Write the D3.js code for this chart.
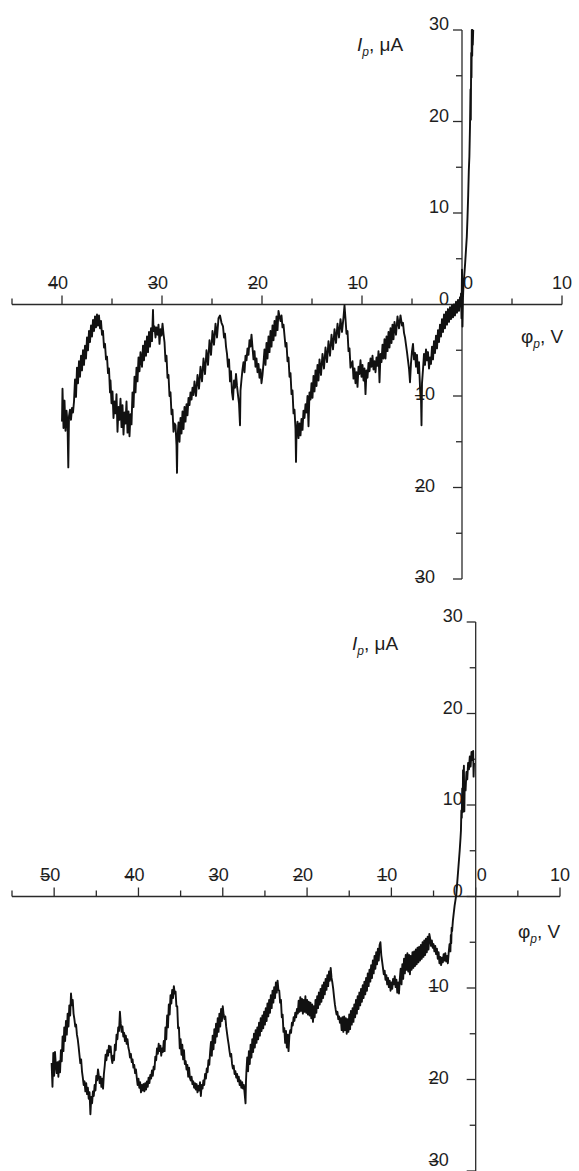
<!DOCTYPE html>
<html><head><meta charset="utf-8">
<script src="https://cdn.jsdelivr.net/npm/d3@7"></script>
<style>
body{margin:0;background:#fff}
svg{display:block}
text{font-family:"Liberation Sans",Arial,Helvetica,sans-serif;fill:#1e1e1e;font-size:18px}
</style>
</head><body>
<svg id="c" width="579" height="1171"></svg>
<script>
// ---------- data ----------
const xTickLabelsTop = [-40,-30,-20,-10,0,10];
const xTickLabelsBottom = [-50,-40,-30,-20,-10,0,10];
const yTickLabels = [-30,-20,-10,0,10,20,30];
const xDomainTop = [-45,10];
const xDomainBottom = [-55,10];
const yDomain = [-30,30];

// top panel curve: [phi_p (V), I_p (uA)]
const topCurve = [[-40.0,-12.8],[-39.95,-9.2],[-39.85,-13.5],[-39.75,-10.5],[-39.65,-13.8],[-39.55,-11.6],[-39.45,-12.9],[-39.37,-17.8],[-39.3,-12.2],[-39.2,-11.5],[-39.1,-12.6],[-39.0,-11.3],[-38.9,-11.8],[-38.8,-10.6],[-38.7,-8.2],[-38.6,-10.1],[-38.5,-6.9],[-38.4,-8.6],[-38.3,-6.2],[-38.2,-7.9],[-38.1,-5.6],[-38.0,-7.2],[-37.9,-5.0],[-37.8,-6.6],[-37.7,-4.5],[-37.6,-5.9],[-37.5,-3.6],[-37.4,-5.0],[-37.3,-2.9],[-37.2,-4.1],[-37.1,-2.3],[-37.0,-3.5],[-36.9,-1.7],[-36.8,-2.9],[-36.7,-1.3],[-36.6,-2.5],[-36.5,-1.1],[-36.4,-2.3],[-36.3,-1.2],[-36.2,-2.6],[-36.1,-1.8],[-36.0,-3.3],[-35.9,-2.9],[-35.8,-4.7],[-35.7,-4.3],[-35.6,-6.0],[-35.5,-5.7],[-35.4,-7.5],[-35.3,-7.0],[-35.2,-9.6],[-35.15,-8.3],[-35.05,-10.8],[-34.95,-9.5],[-34.85,-12.4],[-34.75,-10.6],[-34.65,-11.9],[-34.55,-9.8],[-34.45,-13.9],[-34.35,-11.2],[-34.25,-12.6],[-34.15,-10.3],[-34.05,-13.4],[-33.95,-11.0],[-33.85,-14.2],[-33.75,-11.8],[-33.65,-13.0],[-33.55,-10.6],[-33.45,-14.0],[-33.35,-11.7],[-33.25,-14.4],[-33.15,-12.0],[-33.05,-13.1],[-32.95,-9.6],[-32.85,-11.2],[-32.75,-7.9],[-32.65,-9.6],[-32.55,-6.9],[-32.45,-8.4],[-32.35,-5.8],[-32.25,-7.3],[-32.15,-5.2],[-32.0,-6.8],[-31.9,-4.5],[-31.8,-6.1],[-31.7,-4.0],[-31.6,-5.6],[-31.5,-3.5],[-31.4,-5.2],[-31.3,-3.0],[-31.2,-4.6],[-31.1,-2.6],[-31.0,-4.0],[-30.9,-0.6],[-30.85,-2.9],[-30.75,-2.4],[-30.65,-3.6],[-30.55,-2.5],[-30.45,-3.3],[-30.35,-2.2],[-30.25,-4.3],[-30.15,-2.7],[-30.05,-3.4],[-29.95,-2.1],[-29.85,-3.2],[-29.75,-4.1],[-29.65,-6.2],[-29.55,-5.6],[-29.45,-8.0],[-29.35,-7.7],[-29.25,-10.0],[-29.15,-9.6],[-29.05,-12.0],[-28.95,-11.5],[-28.85,-13.9],[-28.75,-13.0],[-28.65,-13.2],[-28.55,-15.4],[-28.5,-18.4],[-28.45,-14.6],[-28.35,-12.9],[-28.25,-15.0],[-28.15,-12.4],[-28.05,-14.1],[-27.95,-11.7],[-27.85,-13.6],[-27.75,-11.2],[-27.65,-12.8],[-27.55,-10.9],[-27.45,-12.1],[-27.35,-10.2],[-27.25,-11.0],[-27.15,-9.6],[-27.05,-10.4],[-26.95,-9.1],[-26.85,-9.9],[-26.75,-8.4],[-26.6,-10.0],[-26.45,-7.7],[-26.3,-9.2],[-26.15,-6.8],[-26.0,-8.4],[-25.85,-5.9],[-25.7,-7.6],[-25.55,-5.0],[-25.4,-6.6],[-25.25,-3.9],[-25.1,-5.5],[-24.95,-2.9],[-24.8,-4.4],[-24.65,-2.1],[-24.5,-3.6],[-24.35,-1.5],[-24.2,-1.2],[-24.05,-2.0],[-23.9,-2.4],[-23.8,-3.6],[-23.7,-3.2],[-23.6,-4.6],[-23.5,-5.4],[-23.4,-6.8],[-23.3,-6.0],[-23.2,-8.4],[-23.1,-7.3],[-23.0,-9.6],[-22.9,-10.4],[-22.8,-8.3],[-22.7,-9.1],[-22.6,-7.6],[-22.5,-8.9],[-22.4,-9.9],[-22.3,-10.8],[-22.2,-13.2],[-22.15,-9.4],[-22.05,-8.2],[-21.95,-7.1],[-21.85,-6.3],[-21.75,-7.4],[-21.65,-5.6],[-21.55,-6.1],[-21.45,-4.8],[-21.35,-5.5],[-21.25,-3.9],[-21.15,-4.6],[-21.05,-3.3],[-20.95,-4.7],[-20.85,-6.0],[-20.75,-5.1],[-20.65,-6.8],[-20.55,-5.9],[-20.45,-7.4],[-20.35,-6.5],[-20.25,-8.0],[-20.15,-7.1],[-20.05,-8.6],[-19.95,-7.7],[-19.85,-6.4],[-19.75,-4.9],[-19.65,-6.6],[-19.55,-4.2],[-19.45,-5.9],[-19.35,-3.5],[-19.25,-5.2],[-19.15,-2.9],[-19.05,-4.6],[-18.95,-2.3],[-18.85,-3.9],[-18.75,-1.8],[-18.65,-3.4],[-18.55,-1.3],[-18.45,-2.8],[-18.35,-0.7],[-18.25,-1.3],[-18.15,-1.8],[-18.05,-1.2],[-17.95,-2.5],[-17.85,-2.2],[-17.75,-3.4],[-17.65,-4.6],[-17.55,-4.2],[-17.45,-6.2],[-17.35,-5.8],[-17.25,-7.9],[-17.15,-7.5],[-17.05,-9.8],[-16.95,-9.4],[-16.85,-11.9],[-16.75,-11.5],[-16.65,-13.6],[-16.6,-17.2],[-16.55,-14.1],[-16.45,-12.8],[-16.35,-14.6],[-16.25,-13.0],[-16.15,-14.3],[-16.05,-12.5],[-15.95,-13.7],[-15.85,-11.6],[-15.75,-12.4],[-15.65,-10.9],[-15.55,-11.8],[-15.45,-10.0],[-15.35,-13.3],[-15.25,-9.6],[-15.15,-10.4],[-15.05,-8.6],[-14.95,-10.2],[-14.85,-7.8],[-14.75,-9.5],[-14.65,-7.2],[-14.55,-8.9],[-14.45,-6.6],[-14.35,-8.3],[-14.25,-6.0],[-14.1,-7.7],[-13.95,-5.4],[-13.8,-7.0],[-13.65,-4.7],[-13.5,-6.3],[-13.35,-4.0],[-13.2,-5.6],[-13.05,-3.3],[-12.9,-4.9],[-12.75,-2.7],[-12.6,-4.2],[-12.45,-2.1],[-12.3,-3.6],[-12.15,-1.6],[-12.0,-3.0],[-11.85,-1.4],[-11.75,-0.1],[-11.65,-1.6],[-11.55,-3.2],[-11.45,-2.9],[-11.35,-5.1],[-11.25,-4.8],[-11.15,-6.9],[-11.05,-6.5],[-10.95,-6.2],[-10.85,-8.1],[-10.75,-7.0],[-10.65,-8.6],[-10.55,-7.4],[-10.45,-9.0],[-10.35,-6.8],[-10.25,-7.6],[-10.15,-6.1],[-10.05,-7.9],[-9.95,-6.6],[-9.85,-8.3],[-9.75,-7.0],[-9.65,-9.8],[-9.55,-7.2],[-9.45,-8.0],[-9.35,-6.4],[-9.25,-7.3],[-9.15,-5.9],[-9.05,-6.8],[-8.95,-5.6],[-8.85,-7.1],[-8.75,-6.2],[-8.65,-7.4],[-8.55,-5.8],[-8.45,-6.7],[-8.35,-5.1],[-8.25,-8.5],[-8.15,-5.4],[-8.05,-6.3],[-7.95,-4.4],[-7.85,-5.9],[-7.75,-3.8],[-7.65,-5.9],[-7.55,-3.5],[-7.45,-5.1],[-7.35,-3.0],[-7.25,-4.7],[-7.15,-2.6],[-7.05,-4.2],[-6.95,-2.2],[-6.85,-3.8],[-6.75,-1.9],[-6.6,-3.3],[-6.45,-1.3],[-6.3,-2.6],[-6.15,-1.2],[-6.0,-2.3],[-5.9,-2.0],[-5.8,-3.1],[-5.7,-3.6],[-5.6,-4.4],[-5.5,-5.2],[-5.4,-6.1],[-5.3,-7.0],[-5.2,-8.5],[-5.1,-6.4],[-5.0,-5.1],[-4.9,-4.3],[-4.8,-6.0],[-4.7,-5.3],[-4.6,-6.8],[-4.5,-5.5],[-4.4,-7.5],[-4.3,-6.3],[-4.2,-9.0],[-4.1,-10.2],[-4.05,-13.2],[-4.0,-8.6],[-3.9,-7.1],[-3.8,-5.4],[-3.7,-6.6],[-3.6,-4.9],[-3.5,-6.1],[-3.4,-5.2],[-3.3,-7.0],[-3.2,-5.8],[-3.1,-6.5],[-3.0,-4.6],[-2.9,-6.0],[-2.8,-4.0],[-2.7,-5.3],[-2.6,-3.4],[-2.5,-4.8],[-2.4,-2.8],[-2.3,-4.1],[-2.2,-2.2],[-2.1,-3.5],[-2.0,-1.6],[-1.9,-3.0],[-1.8,-1.1],[-1.7,-2.6],[-1.6,-0.8],[-1.5,-2.2],[-1.4,-0.5],[-1.3,-1.9],[-1.2,-0.3],[-1.1,-1.6],[-1.0,-0.1],[-0.9,-1.4],[-0.8,0.0],[-0.7,-1.2],[-0.6,0.3],[-0.5,-0.9],[-0.4,0.5],[-0.3,-0.7],[-0.2,0.8],[-0.15,-0.2],[-0.1,1.2],[-0.05,-1.5],[0.0,3.8],[0.05,-2.4],[0.1,0.8],[0.15,2.2],[0.25,3.5],[0.32,4.6],[0.4,6.0],[0.48,7.4],[0.55,9.5],[0.62,12.0],[0.68,14.6],[0.74,16.2],[0.8,19.5],[0.85,23.5],[0.88,20.2],[0.92,27.5],[0.95,24.8],[0.98,30],[1.02,27.2],[1.05,30],[1.08,28.4],[1.12,30]];

// bottom panel curve: [phi_p (V), I_p (uA)]
const bottomCurve = [[-50.3,-18.2],[-50.2,-20.8],[-50.1,-17.1],[-50.0,-19.6],[-49.9,-17.0],[-49.8,-18.4],[-49.7,-19.3],[-49.6,-18.1],[-49.5,-19.7],[-49.4,-18.0],[-49.3,-19.2],[-49.2,-16.8],[-49.1,-18.0],[-49.0,-15.3],[-48.9,-16.9],[-48.8,-14.3],[-48.7,-15.8],[-48.6,-13.6],[-48.5,-15.1],[-48.4,-12.8],[-48.3,-14.2],[-48.2,-11.9],[-48.1,-13.0],[-48.0,-10.6],[-47.9,-11.9],[-47.8,-11.3],[-47.7,-12.8],[-47.6,-13.4],[-47.5,-14.2],[-47.4,-14.0],[-47.3,-15.1],[-47.2,-15.6],[-47.1,-16.4],[-47.0,-17.3],[-46.9,-18.2],[-46.8,-17.8],[-46.7,-19.1],[-46.6,-19.8],[-46.5,-20.6],[-46.4,-20.2],[-46.3,-21.3],[-46.2,-20.4],[-46.1,-21.6],[-46.0,-20.9],[-45.9,-22.1],[-45.8,-21.4],[-45.7,-23.8],[-45.6,-21.9],[-45.5,-22.6],[-45.4,-21.3],[-45.3,-21.8],[-45.2,-20.6],[-45.1,-21.2],[-45.0,-19.6],[-44.9,-20.1],[-44.8,-18.9],[-44.7,-19.6],[-44.6,-20.4],[-44.5,-19.7],[-44.4,-20.8],[-44.3,-19.9],[-44.2,-21.0],[-44.1,-19.4],[-44.0,-18.5],[-43.9,-17.3],[-43.8,-17.9],[-43.7,-16.8],[-43.6,-17.4],[-43.5,-16.3],[-43.4,-17.0],[-43.3,-16.4],[-43.2,-17.6],[-43.1,-18.2],[-43.0,-17.4],[-42.9,-17.9],[-42.8,-16.2],[-42.7,-16.8],[-42.6,-15.1],[-42.5,-15.6],[-42.4,-14.3],[-42.3,-14.7],[-42.2,-12.6],[-42.1,-13.9],[-42.0,-14.8],[-41.9,-14.2],[-41.8,-15.3],[-41.7,-14.9],[-41.6,-15.8],[-41.5,-15.2],[-41.4,-16.1],[-41.3,-15.6],[-41.2,-16.5],[-41.1,-16.9],[-41.0,-17.6],[-40.9,-17.2],[-40.8,-18.1],[-40.7,-17.8],[-40.6,-18.7],[-40.5,-18.4],[-40.4,-19.3],[-40.3,-18.9],[-40.2,-19.8],[-40.1,-20.6],[-40.0,-19.9],[-39.9,-20.9],[-39.8,-20.3],[-39.7,-21.4],[-39.6,-20.6],[-39.5,-21.2],[-39.4,-20.5],[-39.3,-21.3],[-39.2,-20.4],[-39.1,-21.1],[-39.0,-20.2],[-38.9,-20.8],[-38.8,-19.8],[-38.7,-20.4],[-38.6,-19.5],[-38.5,-19.9],[-38.4,-19.0],[-38.3,-19.6],[-38.2,-18.6],[-38.1,-18.9],[-38.0,-17.5],[-37.9,-17.9],[-37.8,-16.6],[-37.7,-17.2],[-37.6,-16.1],[-37.5,-16.9],[-37.4,-16.3],[-37.3,-17.4],[-37.2,-16.6],[-37.1,-17.0],[-37.0,-15.8],[-36.9,-16.9],[-36.8,-14.3],[-36.7,-15.6],[-36.6,-13.0],[-36.5,-14.3],[-36.4,-11.8],[-36.3,-12.9],[-36.2,-10.8],[-36.1,-11.7],[-36.0,-10.2],[-35.9,-11.1],[-35.8,-9.8],[-35.7,-10.6],[-35.6,-10.4],[-35.5,-12.0],[-35.4,-12.0],[-35.3,-14.4],[-35.2,-14.3],[-35.1,-16.6],[-35.0,-15.6],[-34.9,-17.3],[-34.8,-16.2],[-34.7,-17.8],[-34.6,-16.8],[-34.5,-18.3],[-34.4,-18.0],[-34.3,-18.9],[-34.2,-18.4],[-34.1,-19.7],[-34.0,-18.7],[-33.9,-19.8],[-33.8,-20.1],[-33.7,-19.7],[-33.6,-20.5],[-33.5,-20.2],[-33.4,-20.9],[-33.3,-20.4],[-33.2,-21.1],[-33.1,-20.5],[-33.0,-21.4],[-32.9,-20.7],[-32.8,-21.2],[-32.7,-20.3],[-32.6,-21.8],[-32.5,-20.6],[-32.4,-21.0],[-32.3,-20.1],[-32.2,-20.6],[-32.1,-19.4],[-32.0,-19.9],[-31.9,-18.8],[-31.8,-19.2],[-31.7,-17.9],[-31.6,-18.4],[-31.5,-17.0],[-31.4,-15.9],[-31.3,-17.4],[-31.2,-15.2],[-31.1,-16.7],[-31.0,-14.5],[-30.9,-16.0],[-30.8,-13.9],[-30.7,-15.3],[-30.6,-13.3],[-30.5,-14.8],[-30.4,-12.8],[-30.3,-14.2],[-30.2,-12.3],[-30.1,-13.6],[-30.0,-12.0],[-29.9,-12.9],[-29.8,-13.4],[-29.7,-13.1],[-29.6,-14.2],[-29.5,-14.9],[-29.4,-15.6],[-29.3,-16.2],[-29.2,-16.9],[-29.1,-17.5],[-29.0,-17.2],[-28.9,-18.3],[-28.8,-18.8],[-28.7,-18.5],[-28.6,-19.4],[-28.5,-19.1],[-28.4,-19.8],[-28.3,-19.4],[-28.2,-20.2],[-28.1,-19.7],[-28.0,-20.6],[-27.9,-20.1],[-27.8,-20.9],[-27.7,-20.3],[-27.6,-21.0],[-27.5,-20.6],[-27.4,-21.6],[-27.3,-22.6],[-27.25,-20.3],[-27.2,-19.2],[-27.1,-17.6],[-27.0,-19.1],[-26.9,-16.9],[-26.8,-18.3],[-26.7,-16.2],[-26.6,-17.6],[-26.5,-15.6],[-26.4,-17.0],[-26.3,-15.0],[-26.2,-16.5],[-26.1,-14.6],[-26.0,-16.0],[-25.9,-14.3],[-25.8,-15.6],[-25.7,-13.8],[-25.6,-15.2],[-25.5,-13.3],[-25.4,-14.7],[-25.3,-13.0],[-25.2,-14.4],[-25.1,-12.6],[-25.0,-14.0],[-24.9,-12.2],[-24.8,-13.6],[-24.7,-11.7],[-24.6,-13.1],[-24.5,-11.3],[-24.4,-12.7],[-24.3,-10.8],[-24.2,-12.2],[-24.1,-10.3],[-24.0,-11.6],[-23.9,-9.9],[-23.8,-11.1],[-23.7,-9.4],[-23.6,-10.5],[-23.5,-9.2],[-23.4,-10.2],[-23.3,-10.3],[-23.2,-11.6],[-23.1,-11.3],[-23.0,-13.2],[-22.9,-12.9],[-22.8,-14.8],[-22.7,-14.4],[-22.6,-16.0],[-22.5,-14.7],[-22.4,-16.5],[-22.3,-15.1],[-22.2,-16.9],[-22.1,-15.2],[-22.0,-14.6],[-21.9,-14.9],[-21.8,-13.8],[-21.7,-14.1],[-21.6,-13.2],[-21.5,-13.6],[-21.4,-12.7],[-21.3,-13.2],[-21.2,-12.3],[-21.1,-12.8],[-21.0,-11.4],[-20.9,-12.6],[-20.8,-11.0],[-20.7,-12.5],[-20.6,-11.2],[-20.5,-12.8],[-20.4,-11.3],[-20.3,-12.6],[-20.2,-10.9],[-20.1,-12.7],[-20.0,-11.3],[-19.9,-12.9],[-19.8,-11.5],[-19.7,-13.0],[-19.6,-11.6],[-19.5,-13.3],[-19.4,-11.8],[-19.3,-13.7],[-19.2,-12.0],[-19.1,-13.2],[-19.0,-11.3],[-18.9,-12.7],[-18.8,-10.9],[-18.7,-12.2],[-18.6,-10.5],[-18.5,-11.8],[-18.4,-10.1],[-18.3,-11.5],[-18.2,-9.7],[-18.1,-11.1],[-18.0,-9.4],[-17.9,-10.7],[-17.8,-9.0],[-17.7,-10.2],[-17.6,-8.6],[-17.5,-9.8],[-17.4,-8.2],[-17.3,-9.2],[-17.2,-7.8],[-17.1,-8.9],[-17.0,-9.4],[-16.9,-10.1],[-16.8,-11.0],[-16.7,-11.8],[-16.6,-12.4],[-16.5,-12.9],[-16.4,-12.6],[-16.3,-13.4],[-16.2,-13.1],[-16.1,-13.8],[-16.0,-13.3],[-15.9,-14.6],[-15.8,-13.2],[-15.7,-14.8],[-15.6,-13.1],[-15.5,-14.6],[-15.4,-13.3],[-15.3,-15.0],[-15.2,-13.4],[-15.1,-14.8],[-15.0,-12.9],[-14.9,-14.5],[-14.8,-12.5],[-14.7,-14.0],[-14.6,-12.2],[-14.5,-13.7],[-14.4,-11.8],[-14.3,-13.2],[-14.2,-11.3],[-14.1,-12.8],[-14.0,-10.9],[-13.9,-12.3],[-13.8,-10.5],[-13.7,-11.9],[-13.6,-10.1],[-13.5,-11.5],[-13.4,-9.7],[-13.3,-11.1],[-13.2,-9.3],[-13.1,-10.7],[-13.0,-8.9],[-12.9,-10.3],[-12.8,-8.4],[-12.7,-9.8],[-12.6,-8.0],[-12.5,-9.3],[-12.4,-7.5],[-12.3,-8.9],[-12.2,-7.0],[-12.1,-8.4],[-12.0,-6.5],[-11.9,-7.9],[-11.8,-6.1],[-11.7,-7.4],[-11.6,-5.7],[-11.5,-7.0],[-11.4,-5.3],[-11.3,-5.0],[-11.2,-6.4],[-11.1,-7.1],[-11.0,-7.8],[-10.9,-8.5],[-10.8,-8.1],[-10.7,-9.1],[-10.6,-8.6],[-10.5,-9.6],[-10.4,-8.9],[-10.3,-9.9],[-10.2,-9.2],[-10.1,-10.3],[-10.0,-9.4],[-9.9,-10.1],[-9.8,-9.0],[-9.7,-9.6],[-9.6,-8.7],[-9.5,-9.9],[-9.4,-9.1],[-9.3,-10.5],[-9.2,-9.4],[-9.1,-10.6],[-9.0,-9.0],[-8.9,-7.9],[-8.8,-9.6],[-8.7,-7.4],[-8.6,-9.0],[-8.5,-6.8],[-8.4,-8.4],[-8.3,-6.4],[-8.2,-8.0],[-8.1,-6.2],[-8.0,-8.2],[-7.9,-6.4],[-7.8,-8.5],[-7.7,-6.5],[-7.6,-8.0],[-7.5,-6.1],[-7.4,-7.8],[-7.3,-6.0],[-7.2,-7.6],[-7.1,-5.8],[-7.0,-7.4],[-6.9,-5.6],[-6.8,-7.2],[-6.7,-5.5],[-6.6,-7.0],[-6.5,-5.3],[-6.4,-6.8],[-6.3,-5.0],[-6.2,-6.6],[-6.1,-4.8],[-6.0,-6.4],[-5.9,-4.6],[-5.8,-6.1],[-5.7,-4.4],[-5.6,-5.8],[-5.5,-4.1],[-5.4,-4.6],[-5.3,-5.4],[-5.2,-4.8],[-5.1,-5.6],[-5.0,-5.2],[-4.9,-6.0],[-4.8,-5.4],[-4.7,-6.3],[-4.6,-5.7],[-4.5,-6.8],[-4.4,-6.1],[-4.3,-7.3],[-4.2,-6.6],[-4.1,-7.5],[-4.0,-6.7],[-3.9,-7.2],[-3.8,-6.3],[-3.7,-7.0],[-3.6,-6.2],[-3.5,-7.1],[-3.4,-6.5],[-3.3,-7.3],[-3.2,-6.1],[-3.1,-5.2],[-3.0,-6.0],[-2.95,-4.2],[-2.9,-5.1],[-2.85,-3.4],[-2.8,-3.8],[-2.7,-2.6],[-2.6,-1.8],[-2.5,-1.0],[-2.4,-0.4],[-2.3,0.2],[-2.2,1.4],[-2.1,2.6],[-2.0,3.8],[-1.9,5.0],[-1.8,6.4],[-1.75,7.2],[-1.7,9.4],[-1.65,8.6],[-1.6,11.8],[-1.55,9.2],[-1.5,13.8],[-1.45,10.6],[-1.4,14.3],[-1.35,9.3],[-1.3,12.4],[-1.2,11.6],[-1.1,13.6],[-1.0,12.8],[-0.9,14.6],[-0.8,13.9],[-0.7,15.3],[-0.6,14.2],[-0.5,15.8],[-0.4,14.9],[-0.3,15.9],[-0.25,13.1],[-0.2,14.6]];

// ---------- layout ----------
const W = 579, H = 1171;
const panels = [
  {xDomain: xDomainTop, xLabels: xTickLabelsTop, curve: topCurve,
   xRange: [12,562], yRange: [579,30], iLab: [357,51], phiLab: [521,343]},
  {xDomain: xDomainBottom, xLabels: xTickLabelsBottom, curve: bottomCurve,
   xRange: [12,560], yRange: [1171,622], iLab: [352,650], phiLab: [518,938]}
];
const axisColor = "#2a2a2a";
const svg = d3.select("#c");

function writeLabel(t, v){
  if (v < 0){
    t.append("tspan").text("\u2013");
    t.append("tspan").attr("dx","-0.556em").text(Math.abs(v));
  } else t.text(v);
}

panels.forEach(p => {
  const x = d3.scaleLinear().domain(p.xDomain).range(p.xRange);
  const y = d3.scaleLinear().domain(yDomain).range(p.yRange);
  const g = svg.append("g");
  const X0 = x(0), Y0 = y(0);

  // x axis
  g.append("line").attr("x1", x(p.xDomain[0])).attr("x2", x(p.xDomain[1]))
    .attr("y1", Y0).attr("y2", Y0).attr("stroke", axisColor).attr("stroke-width", 1.3);
  const xt = d3.range(p.xDomain[0], p.xDomain[1] + 0.01, 5);
  g.selectAll(null).data(xt).join("line")
    .attr("x1", d => x(d)).attr("x2", d => x(d))
    .attr("y1", Y0).attr("y2", d => Y0 - (d % 10 === 0 ? 9 : 6))
    .attr("stroke", axisColor).attr("stroke-width", 1.3);
  g.selectAll(null).data(p.xLabels).join("text")
    .attr("x", d => x(d) + (d < 0 ? -4 : d === 0 ? 6 : 0))
    .attr("y", Y0 - 16)
    .attr("text-anchor", "middle")
    .each(function(d){ writeLabel(d3.select(this), d); });

  // y axis
  g.append("line").attr("x1", X0).attr("x2", X0)
    .attr("y1", y(yDomain[0])).attr("y2", y(yDomain[1]))
    .attr("stroke", axisColor).attr("stroke-width", 1.3);
  const yt = d3.range(yDomain[0], yDomain[1] + 0.01, 5);
  g.selectAll(null).data(yt).join("line")
    .attr("y1", d => y(d)).attr("y2", d => y(d))
    .attr("x1", X0).attr("x2", d => X0 - (d % 10 === 0 ? 9 : 6))
    .attr("stroke", axisColor).attr("stroke-width", 1.3);
  g.selectAll(null).data(yTickLabels).join("text")
    .attr("x", d => X0 - 9 - (d < 0 ? 18 : 4))
    .attr("y", d => Math.min(y(d) + (d < 0 ? 4 : 0), H - 5))
    .attr("text-anchor", "end")
    .each(function(d){ writeLabel(d3.select(this), d); });

  // curve
  const line = d3.line().x(d => x(d[0])).y(d => y(d[1]));
  g.append("path").datum(p.curve).attr("d", line)
    .attr("fill", "none").attr("stroke", "#111").attr("stroke-width", 1.9)
    .attr("stroke-linejoin", "round");

  // axis titles
  const ti = g.append("text").attr("x", p.iLab[0]).attr("y", p.iLab[1]).style("font-size", "19px");
  ti.append("tspan").attr("font-style", "italic").text("I");
  ti.append("tspan").attr("font-style", "italic").attr("font-size", "12px").attr("dy", 5).text("p");
  ti.append("tspan").attr("dy", -5).text(", \u03bcA");
  const tp = g.append("text").attr("x", p.phiLab[0]).attr("y", p.phiLab[1]).style("font-size", "19px");
  tp.append("tspan").text("\u03c6");
  tp.append("tspan").attr("font-style", "italic").attr("font-size", "12px").attr("dy", 5).text("p");
  tp.append("tspan").attr("dy", -5).text(", V");
});
</script>
</body></html>
